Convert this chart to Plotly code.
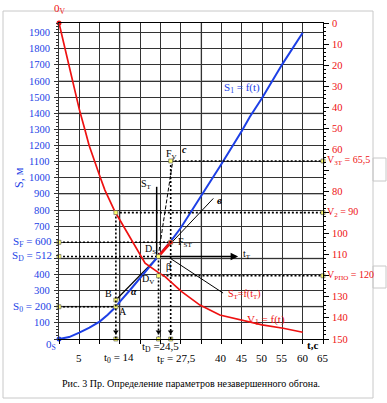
import plotly.graph_objects as go

# ---------------- data ----------------
t_s1 = [0, 2.5, 5, 7.5, 10, 12, 14, 15, 17.5, 20, 24.5, 27.5, 30, 35, 40, 45, 47, 50, 55, 60]
s1 = [0, 12, 40, 70, 108, 150, 200, 232, 304, 380, 512, 605, 690, 885, 1085, 1290, 1378, 1495, 1705, 1900]

t_v1 = [0, 5, 6.4, 7.4, 10.1, 11.3, 13.8, 15, 17.5, 21.2, 24.5, 26.1, 30.2, 34.7, 39.6, 46.2, 50, 55.2, 60]
v1 = [0, 41, 50.8, 58, 73, 79.3, 89.6, 93.5, 102, 114, 118.5, 120.4, 127.5, 133.9, 138.6, 141.8, 143.3, 144.9, 146.8]

t0, tD, tF = 14, 24.5, 27.5
S0, SD, SF = 200, 512, 600
V2, VPPO, V3T = 90, 120, 65.5
SB = 242

x_tick_vals = [5, 40, 45, 50, 55, 60, 65]
s_tick_vals = [100, 300, 400, 700, 800, 900, 1000, 1100, 1200, 1300, 1400, 1500, 1600, 1700, 1800, 1900]
v_tick_vals = [0, 10, 20, 30, 40, 50, 60, 80, 100, 110, 130, 140, 150]

# construction lines (t, S)
line_b_t, line_b_s = [24.5, 38], [512, 872]          # "в"
line_c_t, line_c_s = [24.4, 28.1], [510, 1120]       # "c"
st_axis_t, st_axis_s = [24.05, 24.05], [510, 944]    # S_T axis
tt_axis_t, tt_axis_s = [24.5, 44.1], [512, 512]      # t_T axis
lead_t, lead_s = [27.3, 40.4], [502, 285]            # leader to S_T=f(t_T)
bd_t, bd_s = [14, 24.5], [SB, SD]                    # B-D line
red_seg_t, red_seg_s = [24.5, 27.5], [512, 600]      # S_T=f(t_T) segment

# light grid lines
light_s = [200, 500, 900, 1400, 1600]
light_t = [15, 35]

# ---------------- style ----------------
W, H = 387, 403
L, R, T, B = 59, 64, 23, 64
S_TOP = 1960
BLUE = '#1d3fe6'
RED = '#ee1111'
SERIF = 'Liberation Serif, Times New Roman, serif'
GRID = '#333333'


def px(x):
    return (x - L) / (W - L - R)


def py(y):
    return (H - B - y) / (H - T - B)


fig = go.Figure()

shapes = []
for s in light_s:
    shapes.append(dict(type='line', xref='paper', yref='y', x0=0, x1=1, y0=s, y1=s,
                       line=dict(color='#bdbdbd', width=2), layer='between'))
for t in light_t:
    shapes.append(dict(type='line', xref='x', yref='paper', x0=t, x1=t, y0=0, y1=1,
                       line=dict(color='#bdbdbd', width=2), layer='between'))

# outer frame
shapes.append(dict(type='rect', xref='paper', yref='paper', x0=px(3), x1=px(373),
                   y0=py(398), y1=py(11), line=dict(color='#c8c8c8', width=1)))
shapes.append(dict(type='rect', xref='paper', yref='paper', x0=px(373), x1=px(386),
                   y0=py(181), y1=py(158), line=dict(color='#c8c8c8', width=1)))
shapes.append(dict(type='rect', xref='paper', yref='paper', x0=px(373), x1=px(386),
                   y0=py(288), y1=py(266), line=dict(color='#c8c8c8', width=1)))

DOT = dict(color='black', width=1.6, dash='2px,2px')


def seg(xs, ys, line, yaxis='y'):
    fig.add_trace(go.Scatter(x=xs, y=ys, mode='lines', line=line, yaxis=yaxis,
                             hoverinfo='skip', showlegend=False))


seg([0, tF], [SF, SF], DOT)
seg([0, tD], [SD, SD], DOT)
seg([0, t0], [S0, S0], DOT)
seg([tD, tD], [SD, 0], DOT)
seg([tF, 65], [V3T, V3T], DOT, 'y2')
seg([t0, 65], [V2, V2], DOT, 'y2')
seg([tD, 65], [VPPO, VPPO], DOT, 'y2')
seg([t0, t0], [V2, 150], DOT, 'y2')
seg([tF, tF], [V3T, 150], DOT, 'y2')

seg(line_b_t, line_b_s, dict(color='black', width=1))
seg(line_c_t, line_c_s, dict(color='black', width=1, dash='4px,2px'))
seg(st_axis_t, st_axis_s, dict(color='black', width=1.5))
seg(lead_t, lead_s, dict(color='black', width=1))
seg(bd_t, bd_s, dict(color='black', width=1.2))

fig.add_trace(go.Scatter(x=t_v1, y=v1, mode='lines', yaxis='y2',
                         line=dict(color=RED, width=1.7), showlegend=False))
fig.add_trace(go.Scatter(x=t_s1, y=s1, mode='lines',
                         line=dict(color=BLUE, width=2), showlegend=False))
seg(red_seg_t, red_seg_s, dict(color=RED, width=2.8))

fig.add_trace(go.Scatter(x=[t0, tD, tF], y=[45, 45, 45], mode='markers',
                         marker=dict(symbol='triangle-down', size=5, color='black'),
                         showlegend=False))

YM = dict(symbol='square', size=4, color='#ffff70', line=dict(color='#555', width=0.6))
fig.add_trace(go.Scatter(x=[0, 0, 0, t0, t0, tD, tF, t0, tD, tF],
                         y=[SF, SD, S0, S0, SB, SD, SF, 0, 0, 0],
                         mode='markers', marker=YM, showlegend=False, cliponaxis=False))
fig.add_trace(go.Scatter(x=[65, 65, 65, t0, tF, tD], y=[V3T, V2, VPPO, V2, V3T, VPPO],
                         yaxis='y2', mode='markers', marker=YM, showlegend=False,
                         cliponaxis=False))
fig.add_trace(go.Scatter(x=[tF], y=[SF], mode='markers',
                         marker=dict(size=4, color=RED), showlegend=False))
fig.add_trace(go.Scatter(x=[0], y=[0], mode='markers', marker=dict(size=5, color=BLUE),
                         showlegend=False, cliponaxis=False))
fig.add_trace(go.Scatter(x=[0], y=[0], yaxis='y2', mode='markers',
                         marker=dict(size=5, color=RED), showlegend=False, cliponaxis=False))

ann = []


def A(text, x, y, size=10, color='black', xanchor='center', xref='paper', yref='paper', **kw):
    ann.append(dict(text=text, x=x, y=y, xref=xref, yref=yref, showarrow=False,
                    xanchor=xanchor, yanchor='middle',
                    font=dict(family=SERIF, size=size, color=color), **kw))


for v in s_tick_vals:
    A(str(v), px(52), v, 10.5, BLUE, 'right', yref='y')
A('S<sub>F</sub> = 600', px(54), SF, 11, BLUE, 'right', yref='y')
A('S<sub>D</sub> = 512', px(54), SD, 11, BLUE, 'right', yref='y')
A('S<sub>0</sub> = 200', px(54), S0, 11, BLUE, 'right', yref='y')
A('0<sub>S</sub>', px(51), py(345), 11, BLUE)
A('S, м', px(19), py(178), 12, BLUE, textangle=-90)
A('0<sub>V</sub>', px(60), py(9), 11, RED)

for v in v_tick_vals:
    A(str(v), px(330), v, 10.5, RED, 'left', yref='y2')
A('V<sub>3T</sub> = 65,5', px(325), V3T, 10, RED, 'left', yref='y2')
A('V<sub>2</sub> = 90', px(325), V2, 10, RED, 'left', yref='y2')
A('V<sub>РПО</sub> = 120', px(325), VPPO, 10, RED, 'left', yref='y2')

for v in x_tick_vals:
    A(str(v), v, py(358), 11, 'black', xref='x')
A('t<sub>0</sub> = 14', px(119), py(358), 11)
A('t<sub>D</sub> =24,5', px(160), py(347), 11)
A('t<sub>F</sub> = 27,5', px(176), py(359), 11)
A('<b>t,c</b>', px(312), py(345), 11)
A('Рис. 3 Пр. Определение параметров незавершенного обгона.', px(191), py(383), 10)

A('F<sub>V</sub>', px(171), py(154), 10)
A('<b><i>c</i></b>', px(184), py(149), 10)
A('S<sub>T</sub>', px(146), py(184), 10)
A('<b><i>в</i></b>', px(219), py(200), 11)
A('t<sub>T</sub>', px(247), py(254), 10)
A('D<sub>S</sub>', px(150), py(249), 10)
A('F<sub>ST</sub>', px(185), py(243), 10)
A('β', px(168), py(266), 10)
A('D<sub>V</sub>', px(148), py(279), 10)
A('<b><i>α</i></b>', px(134), py(291), 10)
A('B', px(108), py(293), 10)
A('A', px(123), py(311), 10)
A('S<sub>T</sub>=f(t<sub>T</sub>)', px(244), py(294), 10, RED)
A('V<sub>1</sub> = f(t)', px(266), py(320), 11, RED)
A('S<sub>1</sub> = f(t)', px(242), py(88), 11, BLUE)

ann.append(dict(x=tt_axis_t[1], y=tt_axis_s[1], ax=tt_axis_t[0], ay=tt_axis_s[0],
                xref='x', yref='y', axref='x', ayref='y', text='', showarrow=True,
                arrowhead=2, arrowsize=1, arrowwidth=1.5, arrowcolor='black'))

fig.update_layout(
    width=W, height=H, margin=dict(l=L, r=R, t=T, b=B, pad=0),
    paper_bgcolor='white', plot_bgcolor='white', showlegend=False,
    xaxis=dict(range=[0, 65], tick0=0, dtick=5, showgrid=True, gridcolor=GRID, gridwidth=1,
               zeroline=False, showline=True, linecolor='black', linewidth=1, mirror=True,
               ticks='outside', ticklen=4, tickcolor='black', showticklabels=False),
    yaxis=dict(range=[0, S_TOP], tick0=0, dtick=100, showgrid=True, gridcolor=GRID, gridwidth=1,
               zeroline=False, showline=True, linecolor='#333', linewidth=1,
               ticks='outside', ticklen=4, tickcolor='#333', showticklabels=False,
               minor=dict(dtick=20, ticks='outside', ticklen=2, tickcolor='#333', showgrid=False)),
    yaxis2=dict(range=[150, 0], overlaying='y', side='right', tick0=0, dtick=10, showgrid=False,
                zeroline=False, showline=True, linecolor='black', linewidth=1,
                ticks='outside', ticklen=5, tickcolor='black', showticklabels=False,
                minor=dict(dtick=2, ticks='outside', ticklen=2, tickcolor='black')),
    shapes=shapes, annotations=ann,
)

fig.write_html('out.html', config={'displayModeBar': False},
               post_script="document.body.style.margin='0';document.body.style.overflow='hidden';")
